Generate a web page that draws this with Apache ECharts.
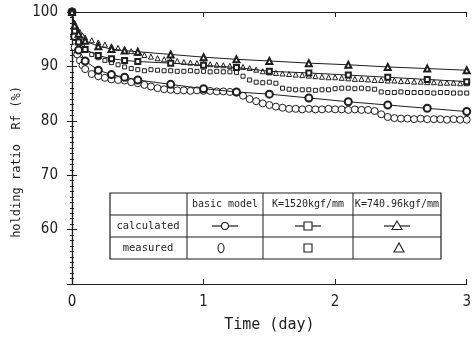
<!DOCTYPE html>
<html>
<head>
<meta charset="utf-8">
<script src="https://cdn.jsdelivr.net/npm/echarts@6/dist/echarts.min.js"></script>
<style>
  html, body { margin: 0; padding: 0; background: #fff; }
  #chart { width: 474px; height: 346px; }
</style>
</head>
<body>
<div id="chart"></div>
<script>
// time axis (day)
const calcDays = [0, 0.02, 0.05, 0.1, 0.2, 0.3, 0.4, 0.5, 0.75, 1.0, 1.25, 1.5, 1.8, 2.1, 2.4, 2.7, 3.0];
const measDays = [0, 0.02, 0.04, 0.06, 0.08, 0.1, 0.15, 0.2,
  0.25, 0.3, 0.35, 0.4, 0.45, 0.5, 0.55, 0.6, 0.65, 0.7, 0.75, 0.8, 0.85, 0.9, 0.95, 1.0,
  1.05, 1.1, 1.15, 1.2, 1.25, 1.3, 1.35, 1.4, 1.45, 1.5, 1.55, 1.6, 1.65, 1.7, 1.75, 1.8,
  1.85, 1.9, 1.95, 2.0, 2.05, 2.1, 2.15, 2.2, 2.25, 2.3, 2.35, 2.4, 2.45, 2.5, 2.55, 2.6,
  2.65, 2.7, 2.75, 2.8, 2.85, 2.9, 2.95, 3.0];

// calculated holding ratio Rf (%)
const calcBasic = [100, 95.5, 93.0, 91.0, 89.3, 88.5, 88.0, 87.5, 86.7, 85.9, 85.3, 84.9, 84.2, 83.5, 82.9, 82.3, 81.7];
const calcK1520 = [100, 96.5, 94.5, 93.1, 92.0, 91.4, 91.1, 90.9, 90.6, 90.2, 89.8, 89.1, 88.8, 88.4, 88.0, 87.6, 87.2];
const calcK740 = [100, 97.5, 96.0, 94.7, 93.7, 93.2, 92.9, 92.7, 92.2, 91.7, 91.3, 91.0, 90.6, 90.3, 89.9, 89.6, 89.3];

// measured holding ratio Rf (%)
const measBasic = [100, 93.5, 92.2, 91.1, 90.2, 89.5, 88.6, 88.2,
  87.9, 87.6, 87.5, 87.4, 87.1, 86.9, 86.6, 86.3, 86.0, 85.8, 85.7, 85.6, 85.6, 85.5, 85.6, 85.5,
  85.5, 85.4, 85.4, 85.3, 85.2, 84.6, 84.0, 83.6, 83.2, 82.9, 82.6, 82.4, 82.2, 82.2, 82.1, 82.2,
  82.1, 82.1, 82.2, 82.1, 82.1, 82.0, 82.1, 82.0, 82.0, 81.8, 81.2, 80.7, 80.5, 80.4, 80.4, 80.3,
  80.4, 80.3, 80.3, 80.3, 80.2, 80.3, 80.2, 80.2];
const measK1520 = [100, 96.5, 95.2, 94.3, 93.6, 93.0, 92.2, 91.6,
  91.1, 90.7, 90.3, 89.9, 89.6, 89.4, 89.2, 89.4, 89.3, 89.2, 89.2, 89.1, 89.1, 89.2, 89.1, 89.1,
  89.0, 89.1, 89.0, 89.0, 88.9, 88.2, 87.5, 87.1, 87.0, 87.1, 86.9, 86.0, 85.8, 85.7, 85.7, 85.7,
  85.6, 85.7, 85.7, 85.9, 86.0, 86.0, 85.9, 86.0, 85.9, 85.8, 85.3, 85.2, 85.2, 85.3, 85.2, 85.2,
  85.2, 85.2, 85.1, 85.2, 85.2, 85.1, 85.1, 85.1];
const measK740 = [100, 98.0, 97.0, 96.3, 95.7, 95.3, 94.8, 94.4,
  94.0, 93.7, 93.4, 93.1, 92.8, 92.5, 92.1, 91.8, 91.5, 91.3, 91.1, 91.0, 90.8, 90.7, 90.6, 90.5,
  90.4, 90.3, 90.2, 90.1, 90.0, 89.9, 89.7, 89.4, 89.1, 88.9, 88.8, 88.7, 88.6, 88.5, 88.4, 88.3,
  88.2, 88.1, 88.0, 88.0, 87.9, 87.8, 87.7, 87.7, 87.6, 87.5, 87.5, 87.4, 87.4, 87.3, 87.3, 87.2,
  87.2, 87.1, 87.1, 87.0, 87.0, 87.0, 86.9, 86.9];

// legend table text
const tableHeader = ['basic model', 'K=1520kgf/mm', 'K=740.96kgf/mm'];
const tableRows = ['calculated', 'measured'];

const ink = '#1e1e1e';
const mono = '"DejaVu Sans Mono", "Liberation Mono", monospace';
const tickFont = '"DejaVu Sans Condensed", "Liberation Sans", sans-serif';

function pairs(xs, ys) {
  return xs.map((x, i) => [x, ys[i]]);
}

function calcLine(data, symbol, size) {
  return {
    type: 'line',
    data: pairs(calcDays, data),
    symbol: symbol,
    symbolSize: size,
    showAllSymbol: true,
    lineStyle: { color: ink, width: 1 },
    itemStyle: { color: ink, borderWidth: 1 },
    z: 3
  };
}

function measScatter(data, symbol, size) {
  return {
    type: 'scatter',
    data: pairs(measDays, data),
    symbol: symbol,
    symbolSize: size,
    itemStyle: { color: '#fff', borderColor: ink, borderWidth: 1, opacity: 1 },
    z: 2
  };
}

// table geometry
const tx = [110, 187, 263, 353, 441];
const ty = [193, 215, 237, 259];
const colMid = [148, 225, 308, 397];
const rowMid = [204, 226, 248];

const tableEls = [
  { type: 'rect', shape: { x: tx[0], y: ty[0], width: tx[4] - tx[0], height: ty[3] - ty[0] },
    style: { fill: '#fff', stroke: ink, lineWidth: 1.2 } }
];
[1, 2, 3].forEach(i => tableEls.push({ type: 'line', shape: { x1: tx[i], y1: ty[0], x2: tx[i], y2: ty[3] }, style: { stroke: ink, lineWidth: 1 } }));
[1, 2].forEach(i => tableEls.push({ type: 'line', shape: { x1: tx[0], y1: ty[i], x2: tx[4], y2: ty[i] }, style: { stroke: ink, lineWidth: 1 } }));
tableHeader.forEach((t, i) => tableEls.push({ type: 'text', x: colMid[i + 1], y: rowMid[0],
  style: { text: t, font: '10px ' + mono, fill: ink, align: 'center', verticalAlign: 'middle' } }));
tableRows.forEach((t, i) => tableEls.push({ type: 'text', x: colMid[0], y: rowMid[i + 1],
  style: { text: t, font: '10.5px ' + mono, fill: ink, align: 'center', verticalAlign: 'middle' } }));
// calculated row: line with marker
[1, 2, 3].forEach(c => tableEls.push({ type: 'line',
  shape: { x1: colMid[c] - 13, y1: rowMid[1], x2: colMid[c] + 13, y2: rowMid[1] },
  style: { stroke: ink, lineWidth: 1.2 } }));
const markStyle = { fill: '#fff', stroke: ink, lineWidth: 1.1 };
tableEls.push({ type: 'circle', shape: { cx: colMid[1], cy: rowMid[1], r: 3.5 }, style: markStyle, z: 101 });
tableEls.push({ type: 'rect', shape: { x: colMid[2] - 4, y: rowMid[1] - 4, width: 8, height: 8 }, style: markStyle, z: 101 });
tableEls.push({ type: 'polygon', shape: { points: [[colMid[3], rowMid[1] - 5], [colMid[3] - 5, rowMid[1] + 3.5], [colMid[3] + 5, rowMid[1] + 3.5]] }, style: markStyle, z: 101 });
// measured row: marker only
tableEls.push({ type: 'ellipse', shape: { cx: colMid[1] - 4, cy: rowMid[2], rx: 3, ry: 4.5 }, style: markStyle, z: 101 });
tableEls.push({ type: 'rect', shape: { x: colMid[2] - 4, y: rowMid[2] - 4, width: 8, height: 8 }, style: markStyle, z: 101 });
tableEls.push({ type: 'polygon', shape: { points: [[colMid[3] + 2, rowMid[2] - 5], [colMid[3] - 3, rowMid[2] + 4], [colMid[3] + 7, rowMid[2] + 4]] }, style: markStyle, z: 101 });

const axisLineStyle = { color: ink, width: 1.2 };

const option = {
  animation: false,
  backgroundColor: '#fff',
  grid: { left: 72, right: 5, top: 12, bottom: 62 },
  xAxis: [
    {
      type: 'value', min: 0, max: 3, interval: 1, position: 'bottom',
      name: 'Time (day)', nameLocation: 'middle', nameGap: 34,
      nameTextStyle: { fontFamily: mono, fontSize: 15, color: ink },
      axisLine: { lineStyle: axisLineStyle },
      axisTick: { inside: true, length: 5, lineStyle: { color: ink } },
      axisLabel: { fontFamily: tickFont, fontSize: 15, color: ink, margin: 11 },
      splitLine: { show: false }
    },
    {
      type: 'value', min: 0, max: 3, interval: 1, position: 'top',
      axisLine: { lineStyle: axisLineStyle },
      axisTick: { inside: true, length: 5, lineStyle: { color: ink } },
      axisLabel: { show: false },
      splitLine: { show: false }
    }
  ],
  yAxis: [
    {
      type: 'value', min: 50, max: 100, interval: 10, position: 'left',
      axisLine: { show: true, lineStyle: axisLineStyle },
      axisTick: { show: true, inside: true, length: 5, lineStyle: { color: ink } },
      minorTick: { show: true, splitNumber: 10, length: 2, lineStyle: { color: ink } },
      axisLabel: { fontFamily: tickFont, fontSize: 15, color: ink, margin: 14,
        formatter: v => (v === 50 ? '' : String(v)) },
      splitLine: { show: false }
    },
    {
      type: 'value', min: 50, max: 100, interval: 10, position: 'right',
      axisLine: { show: true, lineStyle: axisLineStyle },
      axisTick: { show: true, inside: true, length: 5, lineStyle: { color: ink } },
      minorTick: { show: true, splitNumber: 10, length: 2, lineStyle: { color: ink } },
      axisLabel: { show: false },
      splitLine: { show: false }
    }
  ],
  graphic: [
    { type: 'text', x: 17, y: 162, rotation: Math.PI / 2,
      style: { text: 'holding ratio  Rf (%)', font: '12px ' + mono, fill: ink, align: 'center', verticalAlign: 'middle' } },
    { type: 'group', z: 100, children: tableEls }
  ],
  series: [
    measScatter(measBasic, 'circle', 7),
    measScatter(measK1520, 'rect', 4),
    measScatter(measK740, 'triangle', 5),
    calcLine(calcBasic, 'emptyCircle', 7),
    calcLine(calcK1520, 'emptyRect', 5),
    calcLine(calcK740, 'emptyTriangle', 6)
  ]
};

const chart = echarts.init(document.getElementById('chart'), null, { renderer: 'canvas' });
chart.setOption(option);
</script>
</body>
</html>
